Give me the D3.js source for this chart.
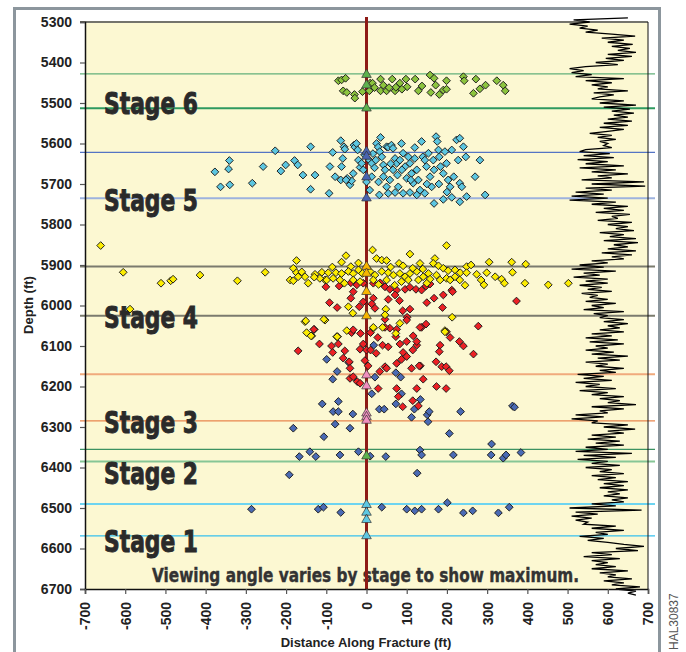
<!DOCTYPE html>
<html>
<head>
<meta charset="utf-8">
<script src="https://cdn.jsdelivr.net/npm/d3@7"></script>
<style>
body { margin: 0; background: #fff; }
</style>
</head>
<body>
<div id="chart"></div>
<script>
// ---- data ----
var xTicks = d3.range(-700, 701, 100);
var yTicks = d3.range(5300, 6701, 100);

var stageNames = ["Stage 6", "Stage 5", "Stage 4", "Stage 3", "Stage 2", "Stage 1"];
var stageLabelDepths = [5527, 5767, 6056, 6315, 6441, 6609];

var boundaryDepths = [5428, 5513, 5622, 5735, 5904, 6025, 6170, 6285, 6355, 6385, 6490, 6569];

// [distance, depth]
var stage6Events = [[-70,5445],[-62,5443],[-52,5439],[-58,5470],[-49,5474],[-30,5479],[-29,5488],[-10,5472],[9,5451],[15,5451],[7,5470],[35,5441],[64,5441],[42,5456],[35,5470],[50,5470],[71,5470],[83,5451],[73,5461],[98,5441],[101,5460],[121,5441],[129,5470],[158,5431],[168,5439],[172,5456],[199,5445],[191,5468],[181,5479],[160,5474],[199,5466],[241,5435],[243,5445],[272,5441],[296,5456],[282,5465],[266,5476],[324,5445],[340,5456],[345,5470],[20,5462],[88,5466],[56,5462],[138,5458]];

var stage5Events = [[-377,5670],[-363,5707],[-341,5642],[-343,5663],[-340,5702],[-284,5698],[-257,5657],[-227,5618],[-213,5668],[-201,5653],[-179,5642],[-171,5653],[-158,5678],[-139,5608],[-128,5678],[-139,5713],[-93,5723],[-84,5622],[-91,5657],[-78,5682],[-64,5593],[-56,5608],[-59,5637],[-62,5657],[-64,5690],
[-41,5702],[-37,5692],[-33,5674],[-31,5604],[-29,5609],[-25,5600],[-20,5641],[-16,5659],[-12,5649],[-22,5616],[-8,5665],[7,5641],[13,5649],[8,5715],[13,5682],[23,5641],[25,5600],[29,5609],[35,5585],[33,5620],[38,5633],[42,5653],[46,5665],[50,5608],[54,5609],[62,5604],[66,5612],[32,5727],[42,5682],[50,5707],[58,5690],[66,5665],[71,5637],[75,5649],[77,5678],[79,5707],[83,5641],[87,5600],[91,5624],[96,5657],[100,5686],[104,5633],[108,5649],[112,5674],[116,5698],[120,5637],[125,5665],[129,5690],[133,5715],[137,5595],[140,5633],[145,5641],[149,5657],[154,5624],[158,5682],[162,5707],[166,5641],[168,5665],[173,5583],[176,5595],[179,5616],[181,5633],[184,5657],[191,5674],[195,5620],[199,5649],[203,5690],[208,5707],[212,5616],[217,5682],[224,5591],[228,5641],[232,5587],[241,5608],[247,5633],[232,5698],[237,5707],[249,5731],[270,5682],[282,5641],[295,5727],[168,5748],[191,5738],[212,5733],[232,5744],[145,5723],[125,5727],[108,5721],[91,5723],[71,5721],[54,5723],
[-48,5686],[-51,5690],[-54,5614],[20,5660],[60,5650],[110,5690],[150,5700],[180,5700],[200,5720],[120,5610],[88,5665],[30,5695],[0,5695],[-5,5628],[16,5625]];

var stage4Events = [[-661,5852],[-605,5918],[-511,5945],[-487,5939],[-481,5935],[-414,5925],[-321,5939],[-252,5918],[-174,5889],[-182,5908],[-174,5919],[-161,5917],[-153,5929],[-170,5929],[-190,5937],[-182,5939],[-128,5923],[-111,5918],[-95,5919],[-103,5937],[-588,6009],[-151,6038],[-106,6034],[-149,6067],[-138,6075],
[199,5852],[15,5863],[-51,5877],[108,5873],[-62,5893],[-39,5904],[25,5884],[38,5888],[50,5889],[81,5896],[91,5902],[133,5896],[170,5884],[166,5896],[179,5902],[191,5908],[203,5914],[220,5912],[249,5904],[233,5919],[249,5919],[274,5923],[285,5937],[292,5949],[299,5919],[305,5893],[320,5929],[336,5935],[343,5945],[361,5893],[363,5918],[396,5898],[394,5945],[452,5949],[502,5945],
[-76,5919],[-62,5921],[-45,5916],[-33,5921],[-20,5912],[-10,5921],[9,5916],[21,5925],[38,5916],[54,5919],[67,5925],[83,5921],[96,5929],[108,5921],[125,5916],[141,5929],[154,5921],[174,5925],[199,5933],[220,5929],[-116,5933],[-99,5937],[-83,5933],[-66,5937],[-33,5937],[-16,5941],[17,5937],[50,5937],[87,5941],[104,5937],[129,5937],[158,5935],[183,5937],[208,5937],[232,5937],
[-130,5930],[-85,5905],[-20,5895],[0,5905],[60,5905],[115,5908],[140,5910],[-55,5945],[30,5948],[70,5950],[150,5945],[260,5900],[245,5950],[-145,5945]];

var stage4LowerEvents = [[-45,6003],[-34,6019],[48,6009],[83,6044],[213,6029],[17,6056],[-49,6062],[195,6062],[-74,6077],[73,6069],[46,6023],[-153,6040],[-136,6075],[-103,6036],[-73,6077],[17,6054],[40,6054],[195,6065]];

var stage3Events = [[-101,5954],[-92,5993],[-130,6059],[-68,5952],[-39,5944],[-73,6005],[-39,5982],[-33,5966],[-24,5949],[-8,5945],[17,5945],[34,5944],[46,5954],[58,5960],[75,5962],[96,5960],[108,5955],[123,5960],[137,5962],[148,5952],[158,5947],[168,5982],[191,5974],[212,5962],[214,5966],[150,5993],[189,6005],[82,5988],[54,5985],[17,5982],[13,5996],[-8,5991],[-18,6003],[90,6013],[108,6009],[46,6034],[101,6029],[148,6046],[137,6054],[278,6051],[373,5989],[21,6007],[71,5974],
[-170,6112],[-117,6095],[-131,6059],[-87,6100],[-84,6116],[-70,6095],[-72,6077],[-54,6112],[-58,6130],[-43,6139],[-41,6155],[-37,6067],[-33,6060],[-16,6108],[-8,6095],[0,6110],[10,6110],[24,6118],[-4,6136],[4,6149],[-15,6069],[10,6067],[28,6079],[40,6098],[54,6102],[58,6056],[75,6059],[73,6077],[83,6095],[100,6089],[91,6116],[100,6126],[115,6110],[125,6098],[116,6075],[100,6036],[46,6054],[-41,6180],[-33,6176],[-23,6188],[-16,6192],[29,6205],[46,6151],[33,6163],[50,6155],[75,6143],[87,6133],[112,6155],[134,6149],[125,6205],[141,6182],[173,6139],[183,6098],[181,6114],[187,6151],[174,6200],[198,6205],[75,6205],[90,6250],[115,6235],[129,6248],[79,6225],
[266,6120],[241,6100],[231,6089],[208,6079],[199,6065],[198,6151],[206,6161],[133,6054],[131,6149],[125,6089]];

var stage1and2Events = [[-99,6133],[-84,6182],[-73,6163],[-44,6141],[18,6098],[21,6177],[13,6218],[73,6166],[85,6177],[87,6218],[134,6232],[-110,6243],[-70,6237],[-83,6262],[-70,6262],[-34,6268],[32,6256],[44,6256],[73,6243],[119,6256],[112,6276],[151,6270],[156,6262],[153,6287],[-78,6293],[-182,6303],[-41,6303],[-106,6324],[206,6316],[-167,6373],[-141,6361],[-126,6373],[-66,6369],[-20,6361],[48,6373],[133,6357],[137,6369],[-192,6418],[126,6414],[-286,6503],[-120,6503],[-107,6498],[-64,6511],[38,6498],[100,6503],[120,6507],[137,6503],[179,6503],[201,6487],[363,6248],[368,6251],[234,6262],[311,6342],[310,6369],[340,6377],[347,6369],[384,6363],[216,6369],[241,6512],[264,6507],[328,6512],[355,6498],[9,6372]];

// perforation markers on the wellbore (depths)
var perfStage6 = [5430, 5456, 5513];
var perfStage5 = [5620, 5632, 5683, 5735];
var perfStage4 = [5904, 5921, 5966, 6026];
var perfStage3 = [6172, 6199, 6266, 6275, 6284];
var perfStage2 = [6372];
var perfStage1 = [6492, 6511, 6529, 6569];

// gamma ray log, one reading every 5 ft from 5290 ft (plotted on the distance axis)
var logTop = 5290, logStep = 5;
var gammaLog = [
650,515,555,505,550,530,575,545,610,668,
585,640,600,662,610,655,625,670,600,660,
595,640,570,625,545,505,540,510,560,520,
640,545,610,560,600,575,650,565,615,580,
560,640,580,670,590,655,610,665,615,650,
600,660,590,650,580,640,600,555,610,575,
620,580,600,590,610,545,530,605,540,615,
525,600,545,640,530,620,560,650,575,610,
535,690,560,693,545,610,520,590,510,600,
505,620,560,650,590,640,570,655,610,625,
575,660,600,650,620,665,580,640,605,670,
590,675,615,650,600,670,585,660,610,640,
560,600,530,590,510,620,540,580,515,600,
545,600,530,585,550,610,535,575,555,600,
545,620,560,590,540,640,565,600,580,640,
590,650,600,630,580,640,560,610,545,625,
555,640,570,600,545,615,560,650,575,630,
545,600,570,640,580,620,525,590,540,610,
520,580,545,620,530,600,560,640,580,630,
600,670,560,640,580,600,520,590,510,575,
560,650,590,668,600,640,560,620,550,630,
570,640,545,600,520,660,540,620,525,600,
560,630,545,610,580,640,560,620,575,650,
590,640,580,650,600,630,590,650,610,640,
560,620,505,684,520,575,510,560,520,550,
540,620,560,640,570,600,530,590,550,600,
640,690,620,675,560,610,540,630,560,600,
570,620,560,650,580,620,600,660,590,640,
610,680,620,670,650,670];

// ---- styles ----
var boundaryColors = ["#62b07a","#2f9a60","#5474c4","#9db2de","#7b7b6e","#7b7b6e","#f0aa7c","#e8864e","#3c9262","#86c696","#6dd4f0","#36c0ee"];
var boundaryWidths = [1.2,2,1.2,2,2,2,2,1.2,1.2,2,2,1.2];
var eventColors = {s6:"#8cc43e", s5:"#5cc6e0", s4:"#fcec00", s3:"#ec2024", s12:"#4a6ab4"};
var fontMain = "'Liberation Sans', Arial, Helvetica, sans-serif";
var fontNarrow = "'Liberation Sans Narrow', 'DejaVu Sans Condensed', 'Liberation Sans', Arial, sans-serif";

// ---- chart ----
var svg = d3.select("#chart").append("svg")
    .attr("width", 686)
    .attr("height", 652);

var x = d3.scaleLinear().domain([-700, 700]).range([85, 648]);
var y = d3.scaleLinear().domain([5300, 6700]).range([22, 589]);

// outer frame (open at bottom)
svg.append("path")
    .attr("d", "M14.5,660V8.5H659.5V660")
    .attr("fill", "none")
    .attr("stroke", "#8c969d")
    .attr("stroke-width", 3);

// plot background
svg.append("rect")
    .attr("x", x(-700)).attr("y", y(5300))
    .attr("width", x(700) - x(-700))
    .attr("height", y(6700) - y(5300))
    .attr("fill", "#fcf8d2");

// stage boundaries
svg.selectAll(".boundary")
    .data(boundaryDepths)
    .enter()
    .append("line")
    .attr("class", "boundary")
    .attr("x1", x(-700) - 5)
    .attr("x2", x(700) + 7)
    .attr("y1", function(d) { return y(d); })
    .attr("y2", function(d) { return y(d); })
    .attr("stroke", function(d, i) { return boundaryColors[i]; })
    .attr("stroke-width", function(d, i) { return boundaryWidths[i]; });

// top edge of plot
svg.append("line")
    .attr("x1", x(-700) - 5).attr("x2", x(700))
    .attr("y1", y(5300)).attr("y2", y(5300))
    .attr("stroke", "#74746c").attr("stroke-width", 2);
// right edge
svg.append("line")
    .attr("x1", x(700)).attr("x2", x(700))
    .attr("y1", y(5300)).attr("y2", y(6700))
    .attr("stroke", "#111").attr("stroke-width", 1);

// stage labels
svg.selectAll(".stage")
    .data(stageNames)
    .enter()
    .append("text")
    .attr("class", "stage")
    .attr("x", 104)
    .attr("y", function(d, i) { return y(stageLabelDepths[i]); })
    .attr("font-family", fontNarrow)
    .attr("font-weight", "bold")
    .attr("font-size", 30)
    .attr("textLength", 94)
    .attr("lengthAdjust", "spacingAndGlyphs")
    .attr("fill", "#2a2a2a")
    .attr("stroke", "#2a2a2a")
    .attr("stroke-width", 0.9)
    .text(function(d) { return d; });

svg.append("text")
    .attr("x", 152).attr("y", 582)
    .attr("font-family", fontNarrow)
    .attr("font-weight", "bold")
    .attr("font-size", 20)
    .attr("textLength", 427)
    .attr("lengthAdjust", "spacingAndGlyphs")
    .attr("fill", "#333")
    .attr("stroke", "#333")
    .attr("stroke-width", 0.4)
    .text("Viewing angle varies by stage to show maximum.");

// gamma ray log
var logLine = d3.line()
    .x(function(d) { return x(d); })
    .y(function(d, i) { return y(logTop + i * logStep); });
svg.append("path")
    .datum(gammaLog)
    .attr("d", logLine)
    .attr("fill", "none")
    .attr("stroke", "#000")
    .attr("stroke-width", 1.3)
    .attr("stroke-linejoin", "miter");

// wellbore
svg.append("line")
    .attr("x1", x(0)).attr("x2", x(0))
    .attr("y1", 17).attr("y2", y(6700))
    .attr("stroke", "#8e1b16").attr("stroke-width", 3);

// microseismic events
var diamond = d3.symbol().type(d3.symbolSquare).size(30);
function drawEvents(data, color) {
    svg.append("g").selectAll("path")
        .data(data)
        .enter()
        .append("path")
        .attr("d", diamond)
        .attr("transform", function(d) { return "translate(" + x(d[0]) + "," + y(d[1]) + ") rotate(45)"; })
        .attr("fill", color)
        .attr("stroke", "#1a1a1a")
        .attr("stroke-width", 0.9);
}
drawEvents(stage1and2Events, eventColors.s12);
drawEvents(stage3Events, eventColors.s3);
drawEvents(stage4LowerEvents, eventColors.s4);
drawEvents(stage4Events, eventColors.s4);
drawEvents(stage5Events, eventColors.s5);
drawEvents(stage6Events, eventColors.s6);

// perforations
var tri = d3.symbol().type(d3.symbolTriangle).size(40);
function drawPerfs(data, color) {
    svg.append("g").selectAll("path")
        .data(data)
        .enter()
        .append("path")
        .attr("d", tri)
        .attr("transform", function(d) { return "translate(" + x(0) + "," + y(d) + ")"; })
        .attr("fill", color)
        .attr("stroke", "#333")
        .attr("stroke-width", 0.7);
}
drawPerfs(perfStage6, "#5db24e");
drawPerfs(perfStage5, "#4863b0");
drawPerfs(perfStage4, "#f7b500");
drawPerfs(perfStage3, "#f08fbf");
drawPerfs(perfStage2, "#5db24e");
drawPerfs(perfStage1, "#5ec8e2");

// axes
var yAxis = svg.append("g")
    .attr("transform", "translate(" + x(-700) + ",0)")
    .call(d3.axisLeft(y).tickValues(yTicks).tickSize(5).tickPadding(8).tickFormat(function(d) { return String(d); }));
yAxis.select(".domain").attr("stroke", "#111").attr("stroke-width", 1.5);
yAxis.selectAll(".tick line").attr("stroke", "#555").attr("stroke-width", 1.2);
yAxis.selectAll("text")
    .attr("font-family", fontMain).attr("font-weight", "bold")
    .attr("font-size", 14).attr("fill", "#222");

var xAxis = svg.append("g")
    .attr("transform", "translate(0," + y(6700) + ")")
    .call(d3.axisBottom(x).tickValues(xTicks).tickSize(5).tickFormat(function(d) { return String(d); }));
xAxis.select(".domain").attr("stroke", "#111").attr("stroke-width", 1.5);
xAxis.selectAll(".tick line").attr("stroke", "#555").attr("stroke-width", 1.2);
xAxis.selectAll("text")
    .attr("transform", "rotate(-90)")
    .attr("x", -13).attr("y", 0).attr("dy", "0.35em")
    .attr("text-anchor", "end")
    .attr("font-family", fontMain).attr("font-weight", "bold")
    .attr("font-size", 14).attr("fill", "#222");

// axis titles
svg.append("text")
    .attr("x", 366).attr("y", 647)
    .attr("text-anchor", "middle")
    .attr("font-family", fontMain).attr("font-weight", "bold")
    .attr("font-size", 13).attr("fill", "#222")
    .text("Distance Along Fracture (ft)");

svg.append("text")
    .attr("transform", "translate(33,305) rotate(-90)")
    .attr("text-anchor", "middle")
    .attr("font-family", fontMain).attr("font-weight", "bold")
    .attr("font-size", 13).attr("fill", "#222")
    .text("Depth (ft)");

svg.append("text")
    .attr("transform", "translate(678,650) rotate(-90)")
    .attr("font-family", fontMain)
    .attr("font-size", 12).attr("fill", "#555")
    .text("HAL30837");
</script>
</body>
</html>
